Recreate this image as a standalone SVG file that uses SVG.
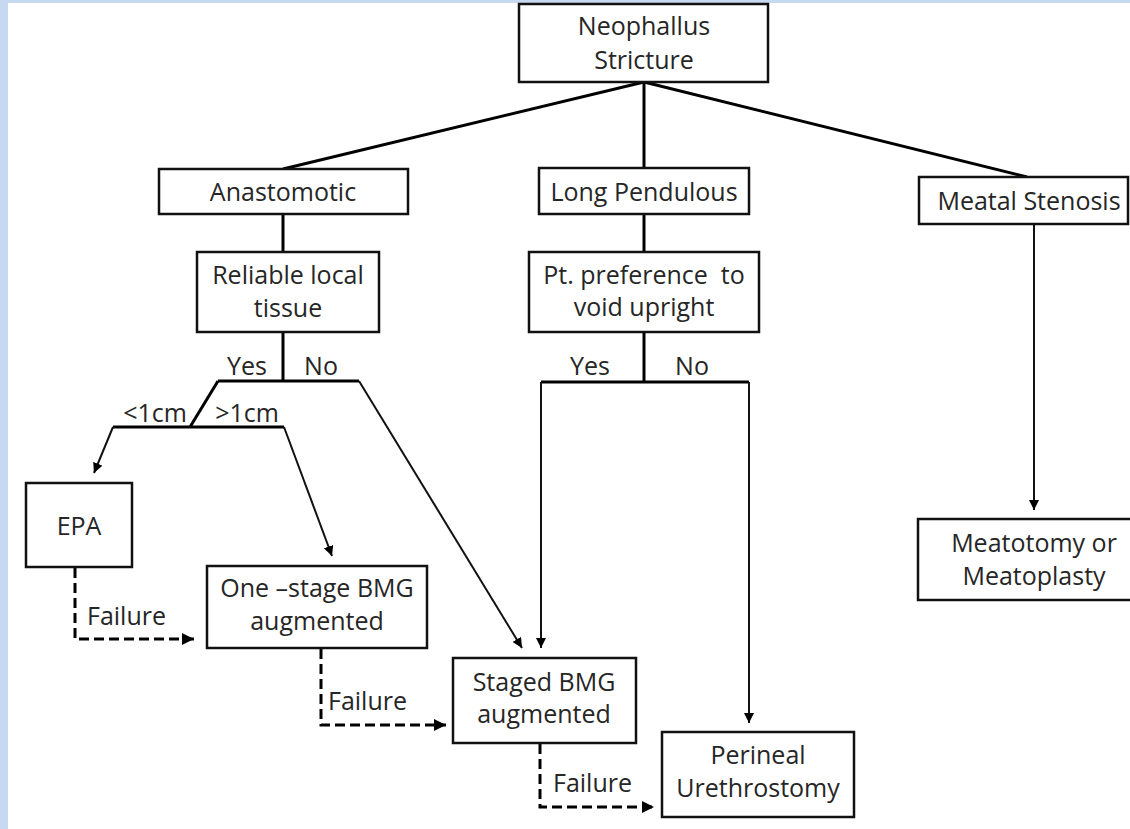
<svg xmlns="http://www.w3.org/2000/svg" width="1130" height="829" viewBox="0 0 1130 829">
<defs>
<marker id="ah" viewBox="0 0 10 10" refX="10" refY="5" markerWidth="10" markerHeight="10" markerUnits="userSpaceOnUse" orient="auto">
<path d="M0,0 L10,5 L0,10 z" fill="#000"/>
</marker>
<marker id="ahd" viewBox="0 0 10 10" refX="10" refY="5" markerWidth="12" markerHeight="12" markerUnits="userSpaceOnUse" orient="auto">
<path d="M0,0 L10,5 L0,10 z" fill="#000"/>
</marker>
</defs>
<style>
.box{fill:#fff;stroke:#111;stroke-width:2.5}
.t{font-family:"Open Sans","Noto Sans",sans-serif;font-size:25px;fill:#262626;text-anchor:middle}
.l{font-family:"Open Sans","Noto Sans",sans-serif;font-size:25px;fill:#262626}
.tree{stroke:#000;stroke-width:3;fill:none}
.arr{stroke:#111;stroke-width:2;fill:none;marker-end:url(#ah)}
.dash{stroke:#000;stroke-width:3;fill:none;stroke-dasharray:10 5;marker-end:url(#ahd)}
</style>
<rect x="0" y="0" width="1130" height="829" fill="#c6d9f1"/>
<rect x="8" y="3" width="1122" height="826" fill="#fff"/>
<g id="connectors">
<path class="tree" d="M644,82 L283,169"/>
<path class="tree" d="M644,82 L644,168"/>
<path class="tree" d="M644,82 L1027,177"/>
<path class="tree" d="M283,214 L283,252"/>
<path class="tree" d="M644,214 L644,252"/>
<path class="tree" d="M283,332 L283,381"/>
<path class="tree" d="M218,381 L359,381"/>
<path class="tree" d="M218,381 L190,427"/>
<path class="tree" d="M113,427 L284,427"/>
<path class="arr" d="M113,427 L94,473"/>
<path class="arr" d="M284,427 L332,556"/>
<path class="arr" d="M359,381 L522,648"/>
<path class="tree" d="M644,332 L644,382"/>
<path class="tree" d="M541,382 L749,382"/>
<path class="arr" d="M541,382 L541,648"/>
<path class="arr" d="M749,382 L749,723"/>
<path class="arr" d="M1034,224 L1034,510"/>
<path class="dash" d="M75,568 L75,639 L194,639"/>
<path class="dash" d="M321,649 L321,725 L446,725"/>
<path class="dash" d="M540,744 L540,807 L654,807"/>
<text class="t" x="247" y="375">Yes</text>
<text class="t" x="321" y="375">No</text>
<text class="t" x="155" y="422">&lt;1cm</text>
<text class="t" x="247" y="422">&gt;1cm</text>
<text class="t" x="590" y="375">Yes</text>
<text class="t" x="692" y="375">No</text>
<text class="l" x="87" y="625">Failure</text>
<text class="l" x="328" y="710">Failure</text>
<text class="l" x="553" y="792">Failure</text>
</g>
<g id="n-root"><rect class="box" x="519" y="4" width="249" height="78"/><text class="t" x="644" y="35">Neophallus</text><text class="t" x="644" y="69">Stricture</text></g>
<g id="n-anast"><rect class="box" x="159" y="169" width="249" height="45"/><text class="t" x="283" y="201">Anastomotic</text></g>
<g id="n-long"><rect class="box" x="539" y="168" width="210" height="46"/><text class="t" x="644" y="201">Long Pendulous</text></g>
<g id="n-meatal"><rect class="box" x="919" y="177" width="209" height="47"/><text class="t" x="1029" y="210">Meatal Stenosis</text></g>
<g id="n-reliable"><rect class="box" x="197" y="252" width="182" height="80"/><text class="t" x="288" y="284">Reliable local</text><text class="t" x="288" y="317">tissue</text></g>
<g id="n-pref"><rect class="box" x="529" y="252" width="230" height="80"/><text class="t" x="644" y="284" xml:space="preserve">Pt. preference  to</text><text class="t" x="644" y="316">void upright</text></g>
<g id="n-epa"><rect class="box" x="26" y="483" width="106" height="84"/><text class="t" x="79" y="535">EPA</text></g>
<g id="n-onestage"><rect class="box" x="207" y="566" width="220" height="82"/><text class="t" x="317" y="597">One –stage BMG</text><text class="t" x="317" y="630">augmented</text></g>
<g id="n-staged"><rect class="box" x="453" y="658" width="183" height="85"/><text class="t" x="544" y="691">Staged BMG</text><text class="t" x="544" y="723">augmented</text></g>
<g id="n-perineal"><rect class="box" x="662" y="732" width="192" height="85"/><text class="t" x="758" y="764">Perineal</text><text class="t" x="758" y="797">Urethrostomy</text></g>
<g id="n-meato"><rect class="box" x="918" y="519" width="214" height="81"/><text class="t" x="1034" y="552">Meatotomy or</text><text class="t" x="1034" y="585">Meatoplasty</text></g>
</svg>
